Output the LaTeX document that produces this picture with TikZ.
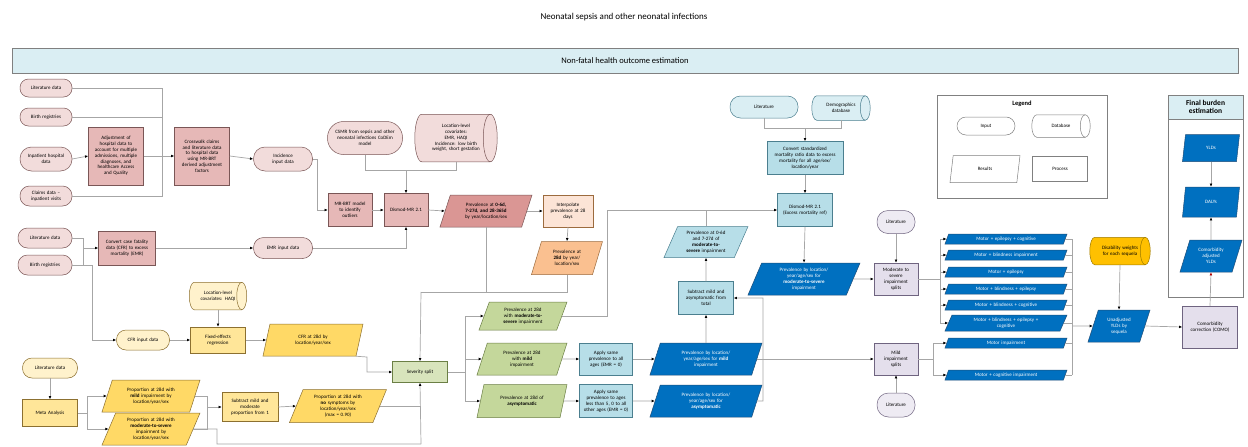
\documentclass[tikz,border=0pt]{standalone}
\usepackage{fontspec}
\setmainfont{Carlito}
\usetikzlibrary{shapes.geometric,shapes.misc,arrows.meta,backgrounds,calc}
\definecolor{cLine}{HTML}{A6A6A6}
\definecolor{cPinkI}{HTML}{F2DCDB}
\definecolor{cPinkP}{HTML}{E6B8B7}
\definecolor{cPinkR}{HTML}{DA9694}
\definecolor{cPinkD}{HTML}{7A5656}
\definecolor{cOrP}{HTML}{FCE4D6}
\definecolor{cOrR}{HTML}{FAC090}
\definecolor{cOrD}{HTML}{9C6B3E}
\definecolor{cYeI}{HTML}{FFF2CC}
\definecolor{cYeP}{HTML}{FFE699}
\definecolor{cYeR}{HTML}{FFD966}
\definecolor{cYeD}{HTML}{8C7030}
\definecolor{cGrP}{HTML}{D8E4BC}
\definecolor{cGrR}{HTML}{C4D79B}
\definecolor{cGrD}{HTML}{6B7F45}
\definecolor{cBlI}{HTML}{DAEEF3}
\definecolor{cBlP}{HTML}{B7DEE8}
\definecolor{cBlD}{HTML}{4B7F8F}
\definecolor{cDB}{HTML}{0070C0}
\definecolor{cDBD}{HTML}{1F4E79}
\definecolor{cLav}{HTML}{E4DFEC}
\definecolor{cLavI}{HTML}{EEEBF3}
\definecolor{cLavD}{HTML}{6F6480}
\definecolor{cGold}{HTML}{FFC000}
\definecolor{cGoldD}{HTML}{9C7A00}
\definecolor{cGray}{HTML}{808080}
% cylinder drawn behind a named node: node, fill, draw, end x-radius
\newcommand\cylbg[4]{%
\begin{scope}[on background layer]
\path[fill=#2, draw=#3, line width=0.5pt]
 let \p1=(#1.north west), \p2=(#1.south east), \n1={0.5*(\y1-\y2)} in
 (\x1+#4,\y1) -- (\x2-#4,\y1) arc[start angle=90, end angle=-90, x radius=#4, y radius=\n1]
 -- (\x1+#4,\y2) arc[start angle=270, end angle=90, x radius=#4, y radius=\n1] -- cycle;
\path[draw=#3, line width=0.5pt]
 let \p1=(#1.north west), \p2=(#1.south east), \n1={0.5*(\y1-\y2)} in
 (\x2-#4,\y1) arc[start angle=90, end angle=270, x radius=#4, y radius=\n1];
\end{scope}}
\begin{document}
\hyphenpenalty=10000
\exhyphenpenalty=10000
\begin{tikzpicture}[x=1pt,y=-1pt]
\tikzset{
 ln/.style={draw=cLine, line width=0.7pt},
 arr/.style={ln, -{Latex[length=3.2pt,width=2.8pt,color=black]}},
 nd/.style={draw, line width=0.5pt, align=center, inner sep=1pt, font=\fontsize{5}{5.8}\selectfont},
 wh/.style n args={3}{minimum width=#1, minimum height=#2, text width=#3},
 proc/.style={nd, rectangle},
 stad/.style={nd, rectangle, rounded corners=#1},
 para/.style={nd, trapezium, trapezium left angle=60, trapezium right angle=120, trapezium stretches body},
 cyln/.style={nd, rectangle, draw=none},
 sPinkI/.style={fill=cPinkI, draw=cPinkD},
 sPinkP/.style={fill=cPinkP, draw=cPinkD},
 sPinkR/.style={fill=cPinkR, draw=cPinkD},
 sOrP/.style={fill=cOrP, draw=cOrD},
 sOrR/.style={fill=cOrR, draw=cOrD},
 sYeI/.style={fill=cYeI, draw=cYeD},
 sYeP/.style={fill=cYeP, draw=cYeD},
 sYeR/.style={fill=cYeR, draw=cYeD},
 sGrP/.style={fill=cGrP, draw=cGrD},
 sGrR/.style={fill=cGrR, draw=cGrD},
 sBlI/.style={fill=cBlI, draw=cBlD},
 sBlP/.style={fill=cBlP, draw=cBlD},
 sDB/.style={fill=cDB, draw=cDBD, text=white},
 sLav/.style={fill=cLav, draw=cLavD},
 sLavI/.style={fill=cLavI, draw=cLavD},
 sWh/.style={fill=white, draw=cGray},
}
\useasboundingbox (0,0) rectangle (1248,447);
\begin{scope}[on background layer]
\fill[white] (0,0) rectangle (1248,447);
\end{scope}

% title and banner
\node[font=\fontsize{9}{10}\selectfont] (title) at (624,17) {Neonatal sepsis and other neonatal infections};
\node[draw=cGray, fill=cBlI, minimum width=1226, minimum height=25, inner sep=0pt, font=\fontsize{8.5}{9}\selectfont] (banner) at (625,61) {Non-fatal health outcome estimation};

% ---------- pink block ----------
\node[stad=8.5, sPinkI, wh={52}{18}{46}] (inLitA) at (46,88) {Literature data};
\node[stad=8.5, sPinkI, wh={52}{18}{46}] (inBirA) at (46,117) {Birth registries};
\node[stad=11.5, sPinkI, wh={52}{24}{46}] (inHosp) at (46,159) {Inpatient hospital\\ data};
\node[stad=9.5, sPinkI, wh={52}{20}{46}] (inClaim) at (46,196) {Claims data --\\ inpatient visits};
\node[proc, sPinkP, wh={55}{58}{52}] (adjust) at (116,156) {Adjustment of\\ hospital data to\\ account for multiple\\ admissions, multiple\\ diagnoses, and\\ healthcare Access\\ and Quality};
\node[proc, sPinkP, wh={55}{58}{52}] (crossw) at (202,156) {Crosswalk claims\\ and literature data\\ to hospital data\\ using MR-BRT\\ derived adjustment\\ factors};
\node[stad=11.5, sPinkI, wh={59}{24}{50}] (incid) at (283,159) {Incidence\\ input data};
\node[stad=16, sPinkI, wh={75}{33}{70}] (csmr) at (365,138) {CSMR from sepsis and other\\ neonatal infections CoDEm\\ model};
\node[cyln, wh={82}{47}{66}] (covdb) at (456,138) {Location-level\\ covariates:\\ EMR, HAQI\\ Incidence: low birth\\ weight, short gestation};
\cylbg{covdb}{cPinkI}{cPinkD}{7pt}
\node[proc, sPinkP, wh={44}{33}{40}] (mrbrt) at (350,210) {MR-BRT model\\ to identify\\ outliers};
\node[proc, sPinkP, wh={44}{33}{40}] (dismodA) at (406,210) {Dismod-MR 2.1};
\node[para, sPinkR, wh={92}{32}{52}] (prevA) at (486,211) {Prevalence at \textbf{0-6d,}\\ \textbf{7-27d, and 28-365d}\\ by year/location/sex};
\node[proc, sOrP, wh={50}{32}{46}] (interp) at (568,211) {Interpolate\\ prevalence at 28\\ days};
\node[para, sOrR, wh={71}{33}{32}] (prevB) at (567,258) {Prevalence at\\ \textbf{28d} by year/\\ location/sex};

\node[stad=9.5, sPinkI, wh={54}{20}{48}] (inLitB) at (45,238) {Literature data};
\node[stad=9.5, sPinkI, wh={54}{20}{48}] (inBirB) at (45,265) {Birth registries};
\node[proc, sPinkP, wh={57}{34}{54}] (convert) at (127,248) {Convert case fatality\\ data (CFR) to excess\\ mortality (EMR)};
\node[stad=10, sPinkI, wh={59}{21}{50}] (emr) at (283,248) {EMR input data};

% ---------- yellow block ----------
\node[cyln, wh={57}{27}{46}] (haqi) at (218,296) {Location-level\\ covariates: HAQI};
\cylbg{haqi}{cYeI}{cYeD}{5pt}
\node[stad=9.5, sYeI, wh={53}{20}{46}] (cfrin) at (143,340) {CFR input data};
\node[proc, sYeP, wh={55}{26}{50}] (fixed) at (218,340) {Fixed-effects\\ regression};
\node[para, sYeR, wh={100}{32}{58}] (cfrB) at (313,340) {CFR at 28d by\\ location/year/sex};
\node[stad=9.5, sYeI, wh={55}{20}{48}] (inLitC) at (50,368) {Literature data};
\node[proc, sYeP, wh={55}{27}{50}] (meta) at (50,413) {Meta Analysis};
\node[para, sYeR, wh={98}{32}{58}] (pmild) at (151,396) {Proportion at 28d with\\ \textbf{mild} impairment by\\ location/year/sex};
\node[para, sYeR, wh={98}{32}{58}] (pms) at (151,429) {Proportion at 28d with\\ \textbf{moderate-to-severe}\\ impairment by\\ location/year/sex};
\node[proc, sYeP, wh={56}{29}{52}] (subA) at (250,407) {Subtract mild and\\ moderate\\ proportion from 1};
\node[para, sYeR, wh={97}{33}{56}] (pno) at (338,406) {Proportion at 28d with\\ \textbf{no} symptoms by\\ location/year/sex\\ (max = 0.90)};

% ---------- green block ----------
\node[proc, sGrP, wh={55}{21}{50}] (sev) at (420,372) {Severity split};
\node[para, sGrR, wh={88}{28}{50}] (gms) at (523,316) {Prevalence at 28d\\ with \textbf{moderate-to-}\\ \textbf{severe} impairment};
\node[para, sGrR, wh={90}{32}{50}] (gmild) at (522,359) {Prevalence at 28d\\ with \textbf{mild}\\ impairment};
\node[para, sGrR, wh={90}{33}{50}] (gasym) at (522,401) {Prevalence at 28d of\\ \textbf{asymptomatic}};

% ---------- light blue block ----------
\node[proc, sBlP, wh={53}{32}{50}] (applyA) at (606,359) {Apply same\\ prevalence to all\\ ages (EMR = 0)};
\node[proc, sBlP, wh={53}{33}{50}] (applyB) at (606,401) {Apply same\\ prevalence to ages\\ less than 5, 0 to all\\ other ages (EMR = 0)};
\node[para, sDB, wh={112}{32}{62}] (bmild) at (706,359) {Prevalence by location/\\ year/age/sex for \textbf{mild}\\ impairment};
\node[para, sDB, wh={112}{32}{62}] (basym) at (706,401) {Prevalence by location/\\ year/age/sex for\\ \textbf{asymptomatic}};
\node[proc, sBlP, wh={55}{33}{50}] (subB) at (706,298) {Subtract mild and\\ asymptomatic from\\ total};
\node[para, sBlP, wh={84}{31}{46}] (p06) at (706,242) {Prevalence at 0-6d\\ and 7-27d of\\ \textbf{moderate-to-}\\ \textbf{severe} impairment};
\node[stad=10.5, sBlI, wh={68}{22}{60}] (litD) at (764,107) {Literature};
\node[cyln, wh={58}{24}{46}] (demo) at (841,108) {Demographics\\ database};
\cylbg{demo}{cBlI}{cBlD}{5pt}
\node[proc, sBlP, wh={76}{33}{74}] (convsmr) at (805,158) {Convert standardized\\ mortality ratio data to excess\\ mortality for all age/sex/\\ location/year};
\node[proc, sBlP, wh={55}{33}{52}] (dismodB) at (805,210) {Dismod-MR 2.1\\ (Excess mortality ref)};
\node[para, sDB, wh={112}{32}{62}] (bms) at (804,279) {Prevalence by location/\\ year/age/sex for\\ \textbf{moderate-to-severe}\\ impairment};

% ---------- lavender / sequelae ----------
\node[stad=11, sLavI, wh={38}{23}{34}] (litS) at (896,222) {Literature};
\node[proc, sLav, wh={44}{32}{40}] (mssplit) at (896,279) {Moderate to\\ severe\\ impairment\\ splits};
\node[proc, sLav, wh={44}{32}{40}] (mildsplit) at (896,359) {Mild\\ impairment\\ splits};
\node[stad=11.5, sLavI, wh={38}{24}{34}] (litM) at (896,405) {Literature};

\node[para, sDB, wh={122}{10}{100}] (sqA) at (1006,239) {Motor + epilepsy + cognitive};
\node[para, sDB, wh={122}{10}{100}] (sqB) at (1006,255) {Motor + blindness impairment};
\node[para, sDB, wh={122}{10}{100}] (sqC) at (1006,272) {Motor + epilepsy};
\node[para, sDB, wh={122}{10}{100}] (sqD) at (1006,289) {Motor + blindness + epilepsy};
\node[para, sDB, wh={122}{10}{100}] (sqE) at (1006,305) {Motor + blindness + cognitive};
\node[para, sDB, wh={122}{16}{96}] (sqF) at (1006,323) {Motor + blindness + epilepsy +\\ cognitive};
\node[para, sDB, wh={122}{10}{100}] (sqG) at (1006,343) {Motor impairment};
\node[para, sDB, wh={122}{10}{100}] (sqH) at (1006,375) {Motor + cognitive impairment};

\node[cyln, wh={60}{27}{50}] (dw) at (1120,251) {Disability weights\\ for each sequela};
\cylbg{dw}{cGold}{cGoldD}{5pt}
\node[para, sDB, wh={62}{32}{26}] (yldu) at (1119,326) {Unadjusted\\ YLDs by\\ sequela};
\node[proc, sLav, wh={55}{42}{52}] (como) at (1210,327) {Comorbidity\\ correction (COMO)};

% ---------- final burden ----------
\node[draw=cGray, minimum width=75, minimum height=202, inner sep=0pt] (fbox) at (1205.5,196) {};
\node[draw=cGray, fill=cBlI, minimum width=75, minimum height=24, inner sep=0pt, align=center, font=\bfseries\fontsize{7.5}{8.5}\selectfont] (fhead) at (1205.5,107) {Final burden\\ estimation};
\node[para, sDB, wh={57}{27}{20}] (ylds) at (1211,148) {YLDs};
\node[para, sDB, wh={57}{30}{20}] (dalys) at (1211,202) {DALYs};
\node[para, sDB, wh={62}{32}{26}] (cylds) at (1211,256) {Comorbidity\\ adjusted\\ YLDs};

% ---------- legend ----------
\node[draw=cGray, minimum width=170, minimum height=103, inner sep=0pt] (legbox) at (1022,146.5) {};
\node[font=\bfseries\fontsize{6.5}{7}\selectfont] (legT) at (1022,104) {Legend};
\node[stad=9, sWh, wh={58}{18}{50}] (legIn) at (986,126) {Input};
\node[cyln, wh={58}{22}{46}] (legDb) at (1061,126) {Database};
\cylbg{legDb}{white}{cGray}{5pt}
\node[para, sWh, wh={70}{27}{36}] (legRes) at (985,169) {Results};
\node[proc, sWh, wh={55}{25}{50}] (legPr) at (1060,169) {Process};

% ---------- junction coordinates ----------
\coordinate (jA) at (162,159);
\coordinate (jB) at (406,170);
\coordinate (jC) at (421,292);
\coordinate (jD) at (421,444);
\coordinate (jE) at (367,357);
\coordinate (jF) at (83,248);
\coordinate (jG) at (87,413);
\coordinate (jH) at (207,407);
\coordinate (jI) at (465,372);
\coordinate (jJ) at (607,210);
\coordinate (jK) at (805,128);
\coordinate (jL) at (940,279);
\coordinate (jM) at (933,359);
\coordinate (jN) at (1072,326);

% ---------- connectors ----------
\draw[ln] (inLitA.east) -| (jA);
\draw[ln] (inBirA.east) -- (inBirA.east -| jA);
\draw[ln] (inClaim.east) -| (jA);
\draw[arr] (inHosp.east) -- (adjust.west);
\draw[arr] (adjust.east) -- (crossw.west);
\draw[arr] (crossw.east) -- (incid.west);
\draw[arr] (incid.east) -- ++(5,0) |- (mrbrt.west);
\draw[ln] (csmr.south) |- (jB);
\draw[ln] (covdb.south) |- (jB);
\draw[arr] (jB) -- (dismodA.north);
\draw[arr] (mrbrt.east) -- (dismodA.west);
\draw[arr] (emr.east) -| (dismodA.south);
\draw[arr] (dismodA.east) -- (prevA.west);
\draw[arr] (prevA.east) -- (interp.west);
\draw[arr] (interp.south) -- (prevB.north);
\draw[ln] (prevB.south) |- (jC);
\draw[ln] (prevA.south) -- (prevA.south |- jC);
\draw[arr] (jC) -- (sev.north);

\draw[ln] (inLitB.east) -| (jF);
\draw[ln] (inBirB.east) -| (jF);
\draw[arr] (jF) -- (convert.west);
\draw[arr] (inBirB.east) -- (92,265) |- (cfrin.west);
\draw[arr] (convert.east) -- (emr.west);

\draw[arr] (haqi.south) -- (fixed.north);
\draw[arr] (cfrin.east) -- (fixed.west);
\draw[arr] (fixed.east) -- (cfrB.west);
\draw[arr] (cfrB.bottom right corner) -- (jE) |- (sev.west);
\draw[arr] (inLitC.south) -- (meta.north);
\draw[ln] (meta.east) -- (jG);
\draw[arr] (jG) |- (pmild.west);
\draw[arr] (jG) |- (pms.west);
\draw[ln] (pmild.east) -| (jH);
\draw[ln] (pms.east) -| (jH);
\draw[arr] (jH) -- (subA.west);
\draw[arr] (subA.east) -- (pno.west);
\draw[ln] (pms.east) -- (217,429) |- (jD);
\draw[ln] (pno.east) -- (pno.east -| jD);
\draw[arr] (jD) -- (sev.south);

\draw[ln] (sev.east) -- (jI);
\draw[arr] (jI) |- (gms.west);
\draw[arr] (jI) |- (gmild.west);
\draw[arr] (jI) |- (gasym.west);
\draw[arr] (gmild.east) -- (applyA.west);
\draw[arr] (gasym.east) -- (applyB.west);
\draw[arr] (applyA.east) -- (bmild.west);
\draw[arr] (applyB.east) -- (basym.west);
\draw[ln] (gms.east) -| (jJ);
\draw[arr] (jJ) -- (dismodB.west);
\draw[ln] (p06.north) -- (p06.north |- jJ);
\draw[arr] (subB.north) -- (p06.south);
\draw[arr] (bmild.north) -- (subB.south);
\draw[arr] (basym.east) -- (763,401) |- (subB.east);
\draw[arr] (bmild.east) -- (mildsplit.west);

\draw[ln] (litD.south) |- (jK);
\draw[ln] (demo.south) |- (jK);
\draw[arr] (jK) -- (convsmr.north);
\draw[arr] (convsmr.south) -- (dismodB.north);
\draw[arr] (dismodB.south) -- (bms.north);
\draw[arr] (bms.east) -- (mssplit.west);
\draw[arr] (litS.south) -- (mssplit.north);
\draw[arr] (litM.north) -- (mildsplit.south);

\draw[ln] (mssplit.east) -- (jL);
\foreach \s in {sqA,sqB,sqC,sqD,sqE,sqF} \draw[arr] (jL) |- (\s.west);
\draw[ln] (mildsplit.east) -- (jM);
\foreach \s in {sqG,sqH} \draw[arr] (jM) |- (\s.west);
\foreach \s in {sqA,sqB,sqC,sqD,sqE,sqF,sqG,sqH} \draw[ln] (\s.east) -- (\s.east -| jN);
\draw[ln] (sqA.east -| jN) -- (sqH.east -| jN);
\draw[arr] (jN) -- (yldu.west);
\draw[arr] (dw.south) -- (yldu.north);
\draw[arr] (yldu.east) -- (como.west);
\draw[ln, -{Latex[length=3.2pt,width=2.8pt,color=red!70!black]}] (como.north) -- (cylds.south);
\draw[arr] (cylds.north) -- (dalys.south);
\draw[arr] (ylds.south) -- (dalys.north);
\end{tikzpicture}
\end{document}
